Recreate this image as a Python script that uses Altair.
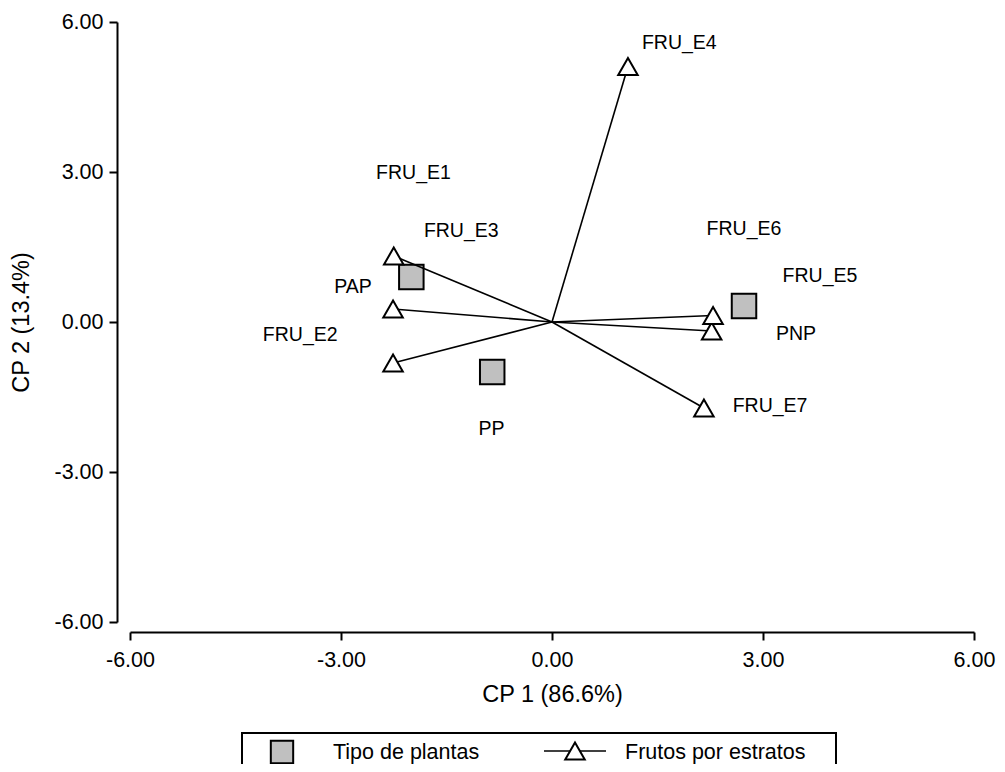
import altair as alt
import pandas as pd

# ---- data ----
plant_names = ["PAP", "PP", "PNP"]
plant_cp1 = [-2.00, -0.85, 2.73]
plant_cp2 = [0.90, -1.00, 0.32]
plant_label_x = [-2.83, -0.86, 3.47]
plant_label_y = [0.70, -2.14, -0.24]

fruit_names = ["FRU_E1", "FRU_E2", "FRU_E3", "FRU_E4", "FRU_E5", "FRU_E6", "FRU_E7"]
fruit_cp1 = [-2.25, -2.26, -2.26, 1.08, 2.27, 2.29, 2.16]
fruit_cp2 = [1.32, -0.82, 0.26, 5.11, -0.18, 0.13, -1.72]
fruit_label_x = [-1.97, -3.58, -1.29, 1.81, 3.81, 2.73, 3.10]
fruit_label_y = [2.98, -0.26, 1.82, 5.58, 0.92, 1.86, -1.68]

axis_ticks = [-6, -3, 0, 3, 6]
x_title = "CP 1 (86.6%)"
y_title = "CP 2 (13.4%)"
legend_labels = ["Tipo de plantas", "Frutos por estratos"]

plants = pd.DataFrame({"name": plant_names, "cp1": plant_cp1, "cp2": plant_cp2,
                       "lx": plant_label_x, "ly": plant_label_y})
fruits = pd.DataFrame({"name": fruit_names, "cp1": fruit_cp1, "cp2": fruit_cp2,
                       "lx": fruit_label_x, "ly": fruit_label_y})
labels = pd.concat([plants, fruits], ignore_index=True)
dummy = pd.DataFrame({"k": [0]})

FONT = "Liberation Sans"
xs = alt.Scale(domain=[-6, 6], nice=False, zero=False)
ys = alt.Scale(domain=[-6, 6], nice=False, zero=False)
label_expr = "(datum.value < 0 ? '-' : '') + format(abs(datum.value), '.2f')"

common = dict(values=axis_ticks, labelExpr=label_expr, grid=False, tickSize=8,
              tickWidth=2, domainWidth=2, domainColor="black", tickColor="black",
              labelColor="black", titleColor="black", labelFontSize=21.5,
              titleFontSize=23.5, labelFont=FONT, titleFont=FONT,
              titleFontWeight="normal", labelFlush=False, labelOverlap=False)
x_axis = alt.Axis(title=x_title, offset=10, labelPadding=9, titlePadding=12, **common)
y_axis = alt.Axis(title=y_title, offset=13, labelPadding=6, titlePadding=20, **common)

X = alt.X("cp1:Q", scale=xs, axis=x_axis)
Y = alt.Y("cp2:Q", scale=ys, axis=y_axis)

squares = alt.Chart(plants).mark_point(
    shape="square", filled=True, fill="#c0c0c0", stroke="black", strokeWidth=2,
    size=600, opacity=1).encode(x=X, y=Y)

vectors = alt.Chart(fruits).mark_rule(color="black", strokeWidth=1.6).encode(
    x=X, y=Y, x2=alt.datum(0), y2=alt.datum(0))

triangles = alt.Chart(fruits).mark_point(
    shape="triangle-up", filled=True, fill="white", stroke="black", strokeWidth=2,
    size=380, opacity=1).encode(x=X, y=Y)

texts = alt.Chart(labels).mark_text(
    font=FONT, fontSize=19.5, color="black", align="center", baseline="middle").encode(
    x=alt.X("lx:Q", scale=xs), y=alt.Y("ly:Q", scale=ys), text="name:N")

# ---- legend box below the plot (pixel positions relative to plot origin) ----
LX = 112
leg_box = alt.Chart(dummy).mark_rect(fill="white", stroke="black", strokeWidth=2).encode(
    x=alt.value(LX), x2=alt.value(LX + 594), y=alt.value(711), y2=alt.value(775))
leg_sq = alt.Chart(dummy).mark_point(
    shape="square", filled=True, fill="#c0c0c0", stroke="black", strokeWidth=2,
    size=500, opacity=1).encode(x=alt.value(LX + 40), y=alt.value(730))
leg_line = alt.Chart(dummy).mark_rule(color="black", strokeWidth=1.6).encode(
    x=alt.value(LX + 302), x2=alt.value(LX + 364), y=alt.value(729))
leg_tri = alt.Chart(dummy).mark_point(
    shape="triangle-up", filled=True, fill="white", stroke="black", strokeWidth=2,
    size=380, opacity=1).encode(x=alt.value(LX + 333), y=alt.value(729))
leg_t1 = alt.Chart(dummy).mark_text(
    font=FONT, fontSize=21.5, color="black", align="left", baseline="middle").encode(
    x=alt.value(LX + 91), y=alt.value(731), text=alt.value(legend_labels[0]))
leg_t2 = alt.Chart(dummy).mark_text(
    font=FONT, fontSize=21.5, color="black", align="left", baseline="middle").encode(
    x=alt.value(LX + 383), y=alt.value(731), text=alt.value(legend_labels[1]))

chart = alt.layer(
    squares, vectors, triangles, texts,
    leg_box, leg_sq, leg_line, leg_tri, leg_t1, leg_t2
).properties(
    width=844, height=600,
    autosize=alt.AutoSizeParams(type="none"),
    padding={"left": 122, "top": 14, "right": 23, "bottom": 142},
    background="white",
).configure_view(stroke="transparent")

chart.save("out.html", embed_options={"renderer": "svg", "actions": False})
